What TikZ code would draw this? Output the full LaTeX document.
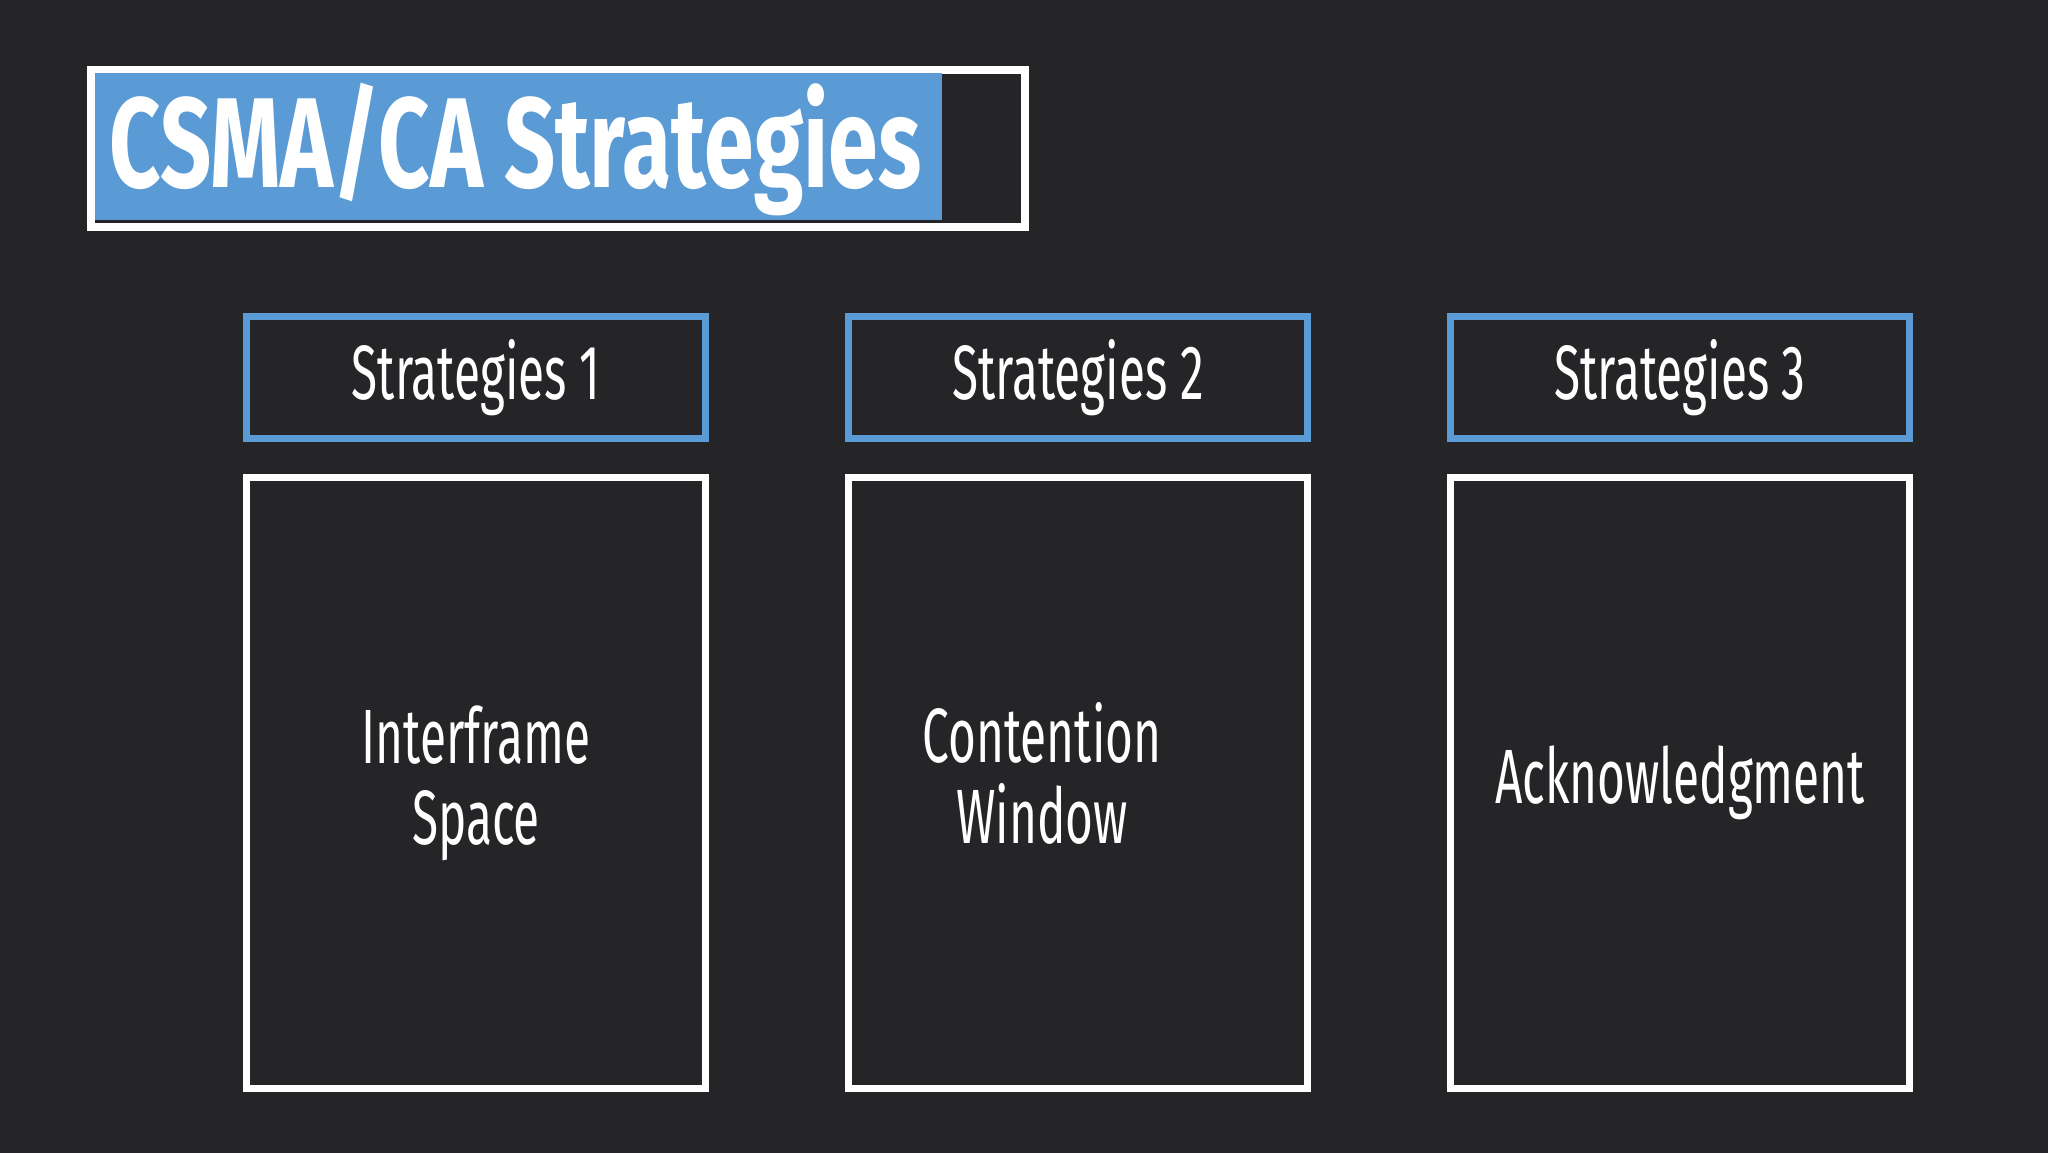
\documentclass[tikz,border=0pt]{standalone}
\usepackage{fontspec}
\setmainfont{Fira Sans}[FakeStretch=0.62]
\newfontfamily\titlefont{Fira Sans}[FakeStretch=0.70]
\usetikzlibrary{positioning}
\definecolor{slide}{HTML}{252527}
\definecolor{office}{HTML}{5B9BD5}

\begin{document}
\begin{tikzpicture}[x=0.5pt, y=-0.5pt,
				   every node/.style={text=white, inner sep=0pt, outer sep=0pt, align=center,
				                      font=\fontsize{38.5pt}{40.5pt}\selectfont},
				   head/.style={draw=office, line width=3.5pt, minimum width=229.5pt, minimum height=61pt},
				   body/.style={draw=white, line width=3.5pt, minimum width=229.5pt, minimum height=305.5pt}]
\useasboundingbox (0,0) rectangle (2048,1152);
\fill[slide] (-4,-4) rectangle (2052,1156);
\node[draw=white, line width=4pt, minimum width=467pt, minimum height=78.5pt] (frame) at (558,148.5) {};
\node[fill=office, minimum width=423.5pt, minimum height=73.5pt] (bar) at (518.5,146.5) {};
\node[anchor=base, font=\titlefont\bfseries\fontsize{64pt}{64pt}\selectfont] (title) at (515.5,187) {CSMA/CA Strategies};

\node[head] (s1) at (476,377.5) {Strategies 1};
\node[head, right=71.5pt of s1] (s2) {Strategies 2};
\node[head, right=71.5pt of s2] (s3) {Strategies 3};

\node[body, below=19.5pt of s1] (b1) {};
\node[body, below=19.5pt of s2] (b2) {};
\node[body, below=19.5pt of s3] (b3) {};

\node (w1) at (b1) {Interframe\\Space};
\node (w2) at (b2) [xshift=-18pt, yshift=4.75pt] {Contention\\Window};
\node (w3) at (b3) {Acknowledgment};
\end{tikzpicture}
\end{document}
